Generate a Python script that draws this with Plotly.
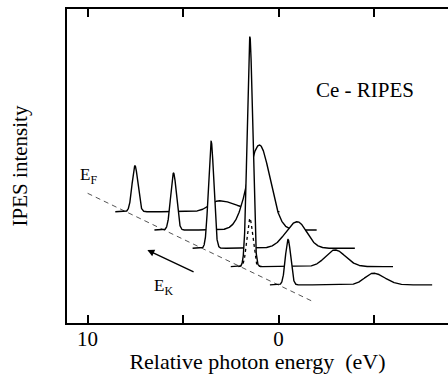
import numpy as np
import plotly.graph_objects as go

# Photon-energy window of each spectrum (eV), back (top) to front (bottom)
spectrum_start = [8.55, 6.5, 4.5, 2.5, 0.45]
spectrum_end = [-0.05, -2.0, -4.0, -6.0, -8.05]
# Vertical offsets of the stacked spectra (arb. units)
baseline = [111.3, 93.0, 74.7, 56.4, 38.1]

# Sharp peak at the Fermi edge
edge_pos = [7.52, 5.5, 3.53, 1.5, -0.5]
edge_height = [46.0, 57.0, 107.0, 230.0, 45.5]
edge_sigma = [0.15, 0.15, 0.14, 0.14, 0.14]

# Broad 4f structure
f_pos = [3.1, 1.0, -0.98, -2.96, -4.97]
f_height = [11.0, 85.0, 26.6, 16.7, 11.7]
f_sigma_left = [0.5, 0.6, 0.6, 0.5, 0.45]
f_sigma_right = [0.9, 0.55, 0.5, 0.55, 0.6]

# Dotted comparison peak on the fourth spectrum
dotted_index = 3
dotted_height = 48.4
dotted_sigma = 0.15

# E_F guide line
ef_x = [10.0, -1.82]
ef_y = [129.7, 21.3]

FONT = "Liberation Serif"


def gauss(x, c, h, s):
    return h * np.exp(-((x - c) ** 2) / (2 * s ** 2))


def asym_gauss(x, c, h, sl, sr):
    s = np.where(x > c, sl, sr)  # x axis runs high->low energy left->right
    return h * np.exp(-((x - c) ** 2) / (2 * s ** 2))


fig = go.Figure()

fig.add_trace(go.Scatter(
    x=ef_x, y=ef_y, mode="lines",
    line=dict(color="#555555", width=1, dash="5px,4px"),
    hoverinfo="skip",
))

for i in range(len(baseline)):
    x = np.linspace(spectrum_start[i], spectrum_end[i], 1800)
    y = (baseline[i]
         + gauss(x, edge_pos[i], edge_height[i], edge_sigma[i])
         + asym_gauss(x, f_pos[i], f_height[i], f_sigma_left[i], f_sigma_right[i]))
    # white area under the curve hides the spectra behind it
    fig.add_trace(go.Scatter(
        x=np.concatenate([x, x[::-1]]),
        y=np.concatenate([y, np.full_like(x, baseline[i])]),
        mode="lines", fill="toself", fillcolor="white",
        line=dict(width=0), hoverinfo="skip",
    ))
    fig.add_trace(go.Scatter(
        x=x, y=y, mode="lines",
        line=dict(color="black", width=1.4),
        hoverinfo="skip",
    ))
    if i == dotted_index:
        xd = np.linspace(edge_pos[i] + 0.6, edge_pos[i] - 0.6, 300)
        yd = baseline[i] + gauss(xd, edge_pos[i], dotted_height, dotted_sigma)
        fig.add_trace(go.Scatter(
            x=xd, y=yd, mode="lines",
            line=dict(color="black", width=1.3, dash="dot"),
            hoverinfo="skip",
        ))

fig.add_annotation(x=-4.53, y=233, xref="x", yref="y", text="Ce - RIPES",
                   showarrow=False, font=dict(family=FONT, size=21, color="black"))
fig.add_annotation(x=9.95, y=147, xref="x", yref="y", text="E<sub>F</sub>",
                   showarrow=False, font=dict(family=FONT, size=17, color="black"))
fig.add_annotation(x=6.02, y=36, xref="x", yref="y", text="E<sub>K</sub>",
                   showarrow=False, font=dict(family=FONT, size=17, color="black"))
fig.add_annotation(x=6.87, y=73, ax=4.37, ay=50.3, xref="x", yref="y",
                   axref="x", ayref="y", text="", showarrow=True,
                   arrowhead=2, arrowsize=1, arrowwidth=1.4, arrowcolor="black")

fig.update_layout(
    width=448, height=374,
    margin=dict(l=67, r=0, t=9, b=51),
    plot_bgcolor="white", paper_bgcolor="white",
    showlegend=False,
    font=dict(family=FONT, size=21, color="black"),
)
fig.update_xaxes(
    range=[11.08, -8.88],
    tickvals=[10, 5, 0, -5], ticktext=["10", "", "0", ""],
    ticks="inside", ticklen=8, tickwidth=1.5, tickcolor="black",
    tickfont=dict(family=FONT, size=21, color="black"),
    ticklabelstandoff=-4,
    showline=True, linewidth=1.6, linecolor="black", mirror="ticks",
    showgrid=False, zeroline=False, automargin=False,
    title=dict(text="Relative photon energy\u00a0 (eV)", standoff=9,
               font=dict(family=FONT, size=22, color="black")),
)
fig.update_yaxes(
    range=[0, 314], showticklabels=False, ticks="",
    showline=True, linewidth=1.6, linecolor="black",
    showgrid=False, zeroline=False, automargin=False,
    title=dict(text="IPES intensity", standoff=32,
               font=dict(family=FONT, size=21, color="black")),
)

fig.write_html("out.html")
